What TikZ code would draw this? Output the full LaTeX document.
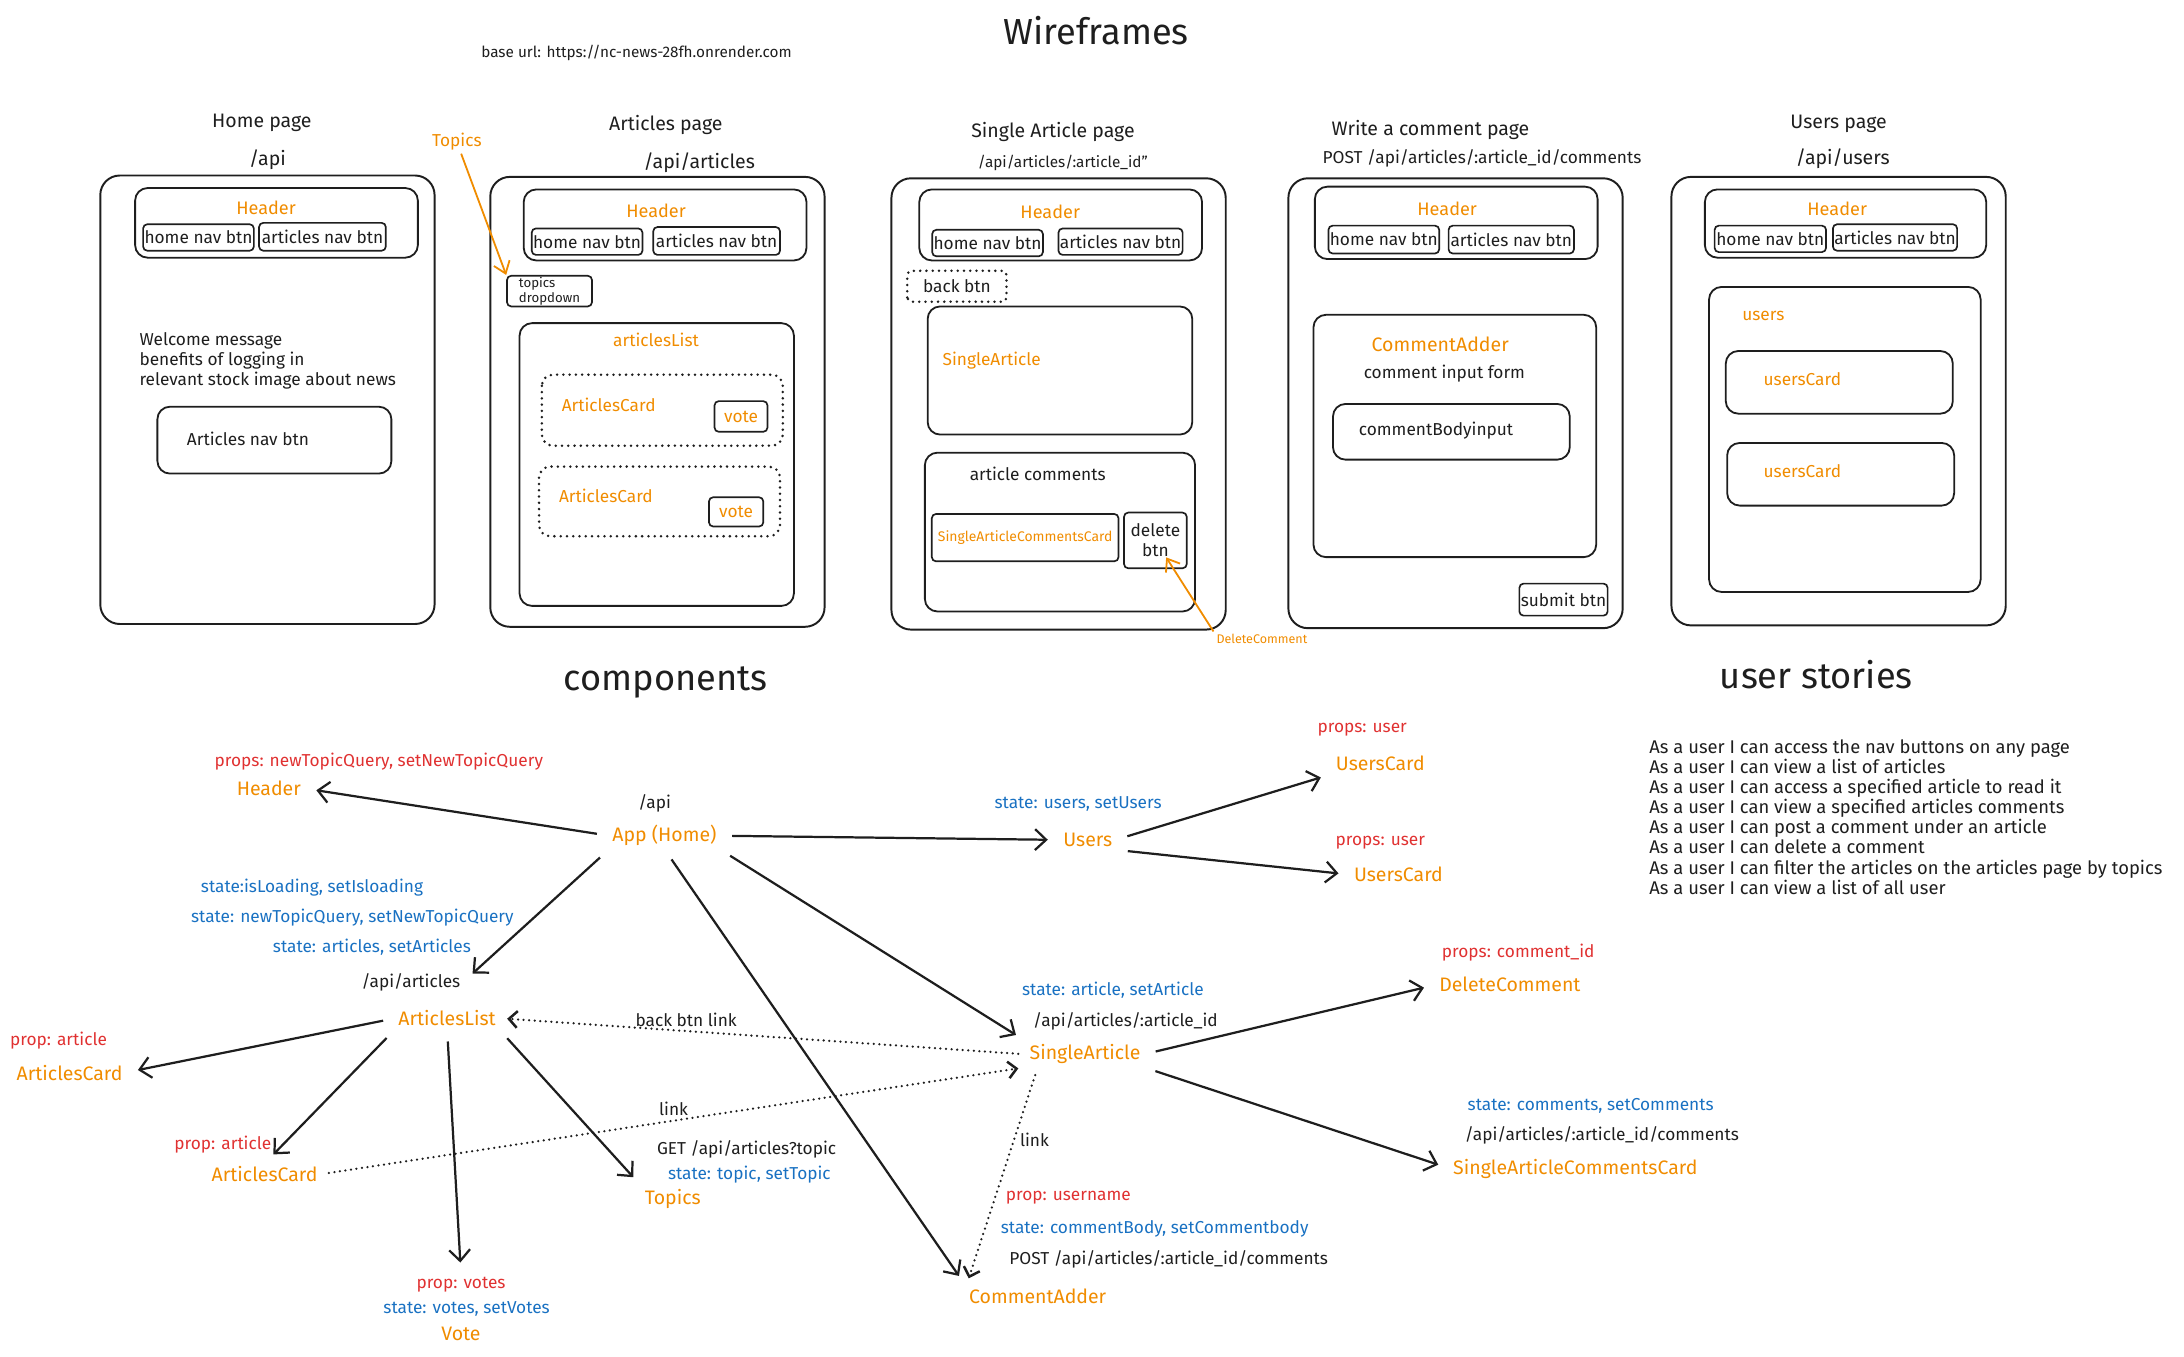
\documentclass[tikz,border=0pt]{standalone}
\usepackage{fontspec}
\setmainfont{Fira Sans}
\usepackage{tikz}
\usetikzlibrary{positioning,arrows.meta}

\definecolor{wfOrange}{RGB}{240,140,0}
\definecolor{wfRed}{RGB}{224,49,49}
\definecolor{wfBlue}{RGB}{25,113,194}
\definecolor{wfInk}{RGB}{30,30,30}

\newcommand{\titlesize}{\fontsize{26}{30}\selectfont}
\newcommand{\bigsize}{\fontsize{14}{17}\selectfont}
\newcommand{\hdrsize}{\fontsize{13}{15}\selectfont}
\newcommand{\midsize}{\fontsize{12.4}{14.4}\selectfont}
\newcommand{\storysize}{\fontsize{13.2}{14.4}\selectfont}
\newcommand{\urlsize}{\fontsize{11}{13}\selectfont}
\newcommand{\smallsize}{\fontsize{9}{11}\selectfont}

\tikzset{
  frame/.style={draw=wfInk, line width=1.4pt, rounded corners=14pt},
  panel/.style={draw=wfInk, line width=1.3pt, rounded corners=9pt},
  btn/.style={draw=wfInk, line width=1.2pt, rounded corners=3pt, inner sep=1pt, text=wfInk, font=\midsize},
  dotbox/.style={draw=wfInk, line width=2pt, line cap=round, dash pattern=on 0pt off 4.5pt, rounded corners=8pt},
  lbl/.style={text=wfInk, font=\midsize, inner sep=2pt},
  pagettl/.style={text=wfInk, font=\bigsize, inner sep=2pt},
  wfcomp/.style={text=wfOrange, font=\midsize, inner sep=2pt},
  comp/.style={text=wfOrange, font=\bigsize, inner sep=2pt},
  props/.style={text=wfRed, font=\midsize, inner sep=1pt},
  state/.style={text=wfBlue, font=\midsize, inner sep=1pt},
  edge/.style={draw=wfInk, line width=1.6pt, -{Straight Barb[length=8pt,width=15pt]}, shorten >=9pt, shorten <=9pt},
  linkedge/.style={draw=wfInk, line width=1.8pt, line cap=round, dash pattern=on 0pt off 4pt, -{Straight Barb[length=6pt,width=12pt]}, shorten >=6pt, shorten <=6pt},
  note/.style={draw=wfOrange, line width=1.3pt, -{Straight Barb[length=8pt,width=12pt]}},
}

\begin{document}
\begin{tikzpicture}[x=1pt, y=-1pt]
        \useasboundingbox (0,0) rectangle (1568,974);
        % Titoli
        \node[text=wfInk, font=\titlesize] (wftitle) at (787,22) {Wireframes};
        \node[text=wfInk, font=\urlsize] (baseurl) at (457,38) {base url: https://nc-news-28fh.onrender.com};
        % Home page
        \node[pagettl] (homettl) at (188,88) {Home page};
        \node[pagettl] (homeurl) at (192,115) {/api};
        \draw[frame] (72,126) rectangle (312,448);
        \draw[panel] (97,135) rectangle (300,185);
        \node[wfcomp, font=\hdrsize] (homehdr) at (191,149) {Header};
        \node[btn, minimum width=77, minimum height=19] (homehb) at (142.5,170.5) {home nav btn};
        \node[btn, minimum width=91, minimum height=20] (homeab) at (231.5,170) {articles nav btn};
        \node[lbl, anchor=west, align=left] (welcome) at (98,259) {Welcome message\\benefits of logging in\\relevant stock image about news};
        \draw[panel] (113,292) rectangle (281,340);
        \node[lbl] (homenav) at (178,315) {Articles nav btn};
        % Articles page
        \node[pagettl] (artttl) at (478,90) {Articles page};
        \node[pagettl] (arturl) at (502,117) {/api/articles};
        \draw[frame] (352,127) rectangle (592,450);
        \draw[panel] (376,136) rectangle (579,187);
        \node[wfcomp, font=\hdrsize] (arthdr) at (471,151) {Header};
        \node[btn, minimum width=77, minimum height=19] (arthb) at (421.5,173.5) {home nav btn};
        \node[btn, minimum width=91, minimum height=20] (artab) at (514.5,173) {articles nav btn};
        \node[btn, font=\fontsize{9.5}{10.5}\selectfont, align=left, minimum width=61, minimum height=22] (topicsdd) at (394.5,209) {topics\\dropdown};
        \node[wfcomp] (topicsnote) at (328,102) {Topics};
        \draw[note] (topicsnote) -- (topicsdd.north west);
        \draw[panel] (373,232) rectangle (570,435);
        \node[wfcomp] (artlist) at (471,244) {articlesList};
        \draw[dotbox] (389,269) rectangle (562,320);
        \node[wfcomp] (artcard1) at (437,291) {ArticlesCard};
        \node[btn, text=wfOrange, minimum width=38, minimum height=22] (artvote1) at (532,299) {vote};
        \draw[dotbox] (387,335) rectangle (560,385);
        \node[wfcomp] (artcard2) at (435,356) {ArticlesCard};
        \node[btn, text=wfOrange, minimum width=39, minimum height=21] (artvote2) at (528.5,367.5) {vote};
        % Single Article page
        \node[pagettl] (singlettl) at (756,95) {Single Article page};
        \node[lbl, font=\urlsize] (singleurlw) at (763,117) {/api/articles/:article\_id"};
        \draw[frame] (640,128) rectangle (880,452);
        \draw[panel] (660,136) rectangle (863,187);
        \node[wfcomp, font=\hdrsize] (singlehdr) at (754,152) {Header};
        \node[btn, minimum width=76, minimum height=19] (singlehb) at (709,174.5) {home nav btn};
        \node[btn, minimum width=89, minimum height=19] (singleab) at (804.5,173.5) {articles nav btn};
        \node[btn, draw=none, minimum width=70, minimum height=21] (backbtn) at (687,205.5) {back btn};
        \draw[dotbox, rounded corners=3pt] (backbtn.south west) rectangle (backbtn.north east);
        \draw[panel] (666,220) rectangle (856,312);
        \node[wfcomp] (singleart) at (712,259) {SingleArticle};
        \draw[panel] (664,325) rectangle (858,439);
        \node[lbl] (artcomments) at (745,340) {article comments};
        \node[btn, text=wfOrange, font=\fontsize{10}{12}\selectfont, minimum width=134, minimum height=34] (saccbox) at (736,386) {SingleArticleCommentsCard};
        \node[btn, align=center, minimum width=45, minimum height=40] (delbtn) at (829.5,388) {delete\\btn};
        \node[wfcomp, font=\smallsize] (delnote) at (906,459) {DeleteComment};
        \draw[note, shorten >=-10pt] (delnote.north west) -- (delbtn);
        % Write a comment page
        \node[pagettl] (writettl) at (1027,93) {Write a comment page};
        \node[lbl] (writeurl) at (1064,114) {POST /api/articles/:article\_id/comments};
        \draw[frame] (925,128) rectangle (1165,451);
        \draw[panel] (944,134) rectangle (1147,186);
        \node[wfcomp, font=\hdrsize] (writehdr) at (1039,150) {Header};
        \node[btn, minimum width=77, minimum height=20] (writehb) at (993.5,172) {home nav btn};
        \node[btn, minimum width=90, minimum height=20] (writeab) at (1085,172) {articles nav btn};
        \draw[panel] (943,226) rectangle (1146,400);
        \node[wfcomp, font=\bigsize] (writeadder) at (1034,247) {CommentAdder};
        \node[lbl] (writeform) at (1037,268) {comment input form};
        \draw[panel] (957,290) rectangle (1127,330);
        \node[lbl] (writebody) at (1031,309) {commentBodyinput};
        \node[btn, minimum width=63, minimum height=23] (submitbtn) at (1122.5,430.5) {submit btn};
        % Users page
        \node[pagettl] (usersttl) at (1320,89) {Users page};
        \node[pagettl] (usersurl) at (1323,114) {/api/users};
        \draw[frame] (1200,127) rectangle (1440,449);
        \draw[panel] (1224,136) rectangle (1426,185);
        \node[wfcomp, font=\hdrsize] (usershdr) at (1319,150) {Header};
        \node[btn, minimum width=80, minimum height=19] (usershb) at (1271,171.5) {home nav btn};
        \node[btn, minimum width=89, minimum height=19] (usersab) at (1360.5,170.5) {articles nav btn};
        \draw[panel] (1227,206) rectangle (1422,425);
        \node[wfcomp] (userslist) at (1266,227) {users};
        \draw[panel] (1239,252) rectangle (1402,297);
        \node[wfcomp] (userscard1) at (1294,272) {usersCard};
        \draw[panel] (1240,318) rectangle (1403,363);
        \node[wfcomp] (userscard2) at (1294,338) {usersCard};
        % Components
        \node[text=wfInk, font=\titlesize] (comptitle) at (478,490) {components};
        \node[lbl] (apiurl) at (470,577) {/api};
        \node[comp] (app) at (477,600) {App (Home)};
        \node[props] (hdrprops) at (272,547) {props: newTopicQuery, setNewTopicQuery};
        \node[comp] (hdr) at (193,566) {Header};
        \node[state] (usersstate) at (774,577) {state: users, setUsers};
        \node[comp] (users) at (781,603) {Users};
        \node[props] (uc1props) at (978,524) {props: user};
        \node[comp] (uc1) at (991,548) {UsersCard};
        \node[props] (uc2props) at (991,605) {props: user};
        \node[comp] (uc2) at (1004,628) {UsersCard};
        \node[state] (loadstate) at (224,637) {state:isLoading, setIsloading};
        \node[state] (querystate) at (253,659) {state: newTopicQuery, setNewTopicQuery};
        \node[state] (artstate) at (267,680) {state: articles, setArticles};
        \node[lbl] (alisturl) at (295,705) {/api/articles};
        \node[comp] (alist) at (321,731) {ArticlesList};
        \node[props] (ac1props) at (42,747) {prop: article};
        \node[comp] (acard1) at (50,770) {ArticlesCard};
        \node[props] (ac2props) at (160,822) {prop: article};
        \node[comp] (acard2) at (190,843) {ArticlesCard};
        \node[props] (voteprops) at (331,922) {prop: votes};
        \node[state] (votestate) at (335,940) {state: votes, setVotes};
        \node[comp] (vote) at (331,958) {Vote};
        \node[lbl] (topicsurl) at (536,825) {GET /api/articles?topic};
        \node[state] (topicstate) at (538,843) {state: topic, setTopic};
        \node[comp] (topics) at (483,861) {Topics};
        \node[state] (singlestate) at (799,711) {state: article, setArticle};
        \node[lbl] (singleurl) at (808,733) {/api/articles/:article\_id};
        \node[comp] (single) at (779,757) {SingleArticle};
        \node[props] (delprops) at (1090,684) {props: comment\_id};
        \node[comp] (delc) at (1084,707) {DeleteComment};
        \node[state] (saccstate) at (1142,794) {state: comments, setComments};
        \node[lbl] (saccurl) at (1150,815) {/api/articles/:article\_id/comments};
        \node[comp] (sacc) at (1131,839) {SingleArticleCommentsCard};
        \node[props] (caddprops) at (767,860) {prop: username};
        \node[state] (caddstate) at (829,882) {state: commentBody, setCommentbody};
        \node[lbl] (caddurl) at (839,904) {POST /api/articles/:article\_id/comments};
        \node[comp] (cadd) at (745,931) {CommentAdder};
        % Frecce
        \draw[edge] (app.west) -- (hdr.east);
        \draw[edge] (app.east) -- (users.west);
        \draw[edge] (app.south west) -- (alisturl.east);
        \draw[edge] (app.south) -- (cadd.north west);
        \draw[edge] (app.south east) -- (single.north west);
        \draw[edge] (users.east) -- (uc1.south west);
        \draw[edge] (users.south east) -- (uc2.west);
        \draw[edge] (alist.west) -- (acard1.east);
        \draw[edge] (alist.south west) -- (acard2.north);
        \draw[edge] (alist.south) -- (voteprops.north);
        \draw[edge] (alist.south east) -- (topics.north west);
        \draw[edge] (single.east) -- (delc.west);
        \draw[edge] (single.south east) -- (sacc.west);
        % Link tratteggiati
        \draw[linkedge] (single.west) -- node[pos=0.645, above, text=wfInk, font=\midsize, inner sep=2pt] {back btn link} (alist.east);
        \draw[linkedge] (acard2.east) -- node[pos=0.5, above, text=wfInk, font=\midsize, inner sep=3pt] {link} (single.south west);
        \draw[linkedge] ([xshift=8pt]single.south west) -- node[pos=0.33, right, text=wfInk, font=\midsize] {link} (cadd.north west);
        % User stories
        \node[text=wfInk, font=\titlesize] (storiestitle) at (1304,484) {user stories};
        \node[lbl, font=\storysize, anchor=north west, align=left] (stories) at (1182,529) {As a user I can access the nav buttons on any page\\
          As a user I can view a list of articles\\
          As a user I can access a specified article to read it\\
          As a user I can view a specified articles comments\\
          As a user I can post a comment under an article\\
          As a user I can delete a comment\\
          As a user I can filter the articles on the articles page by topics\\
          As a user I can view a list of all user};
\end{tikzpicture}
\end{document}
